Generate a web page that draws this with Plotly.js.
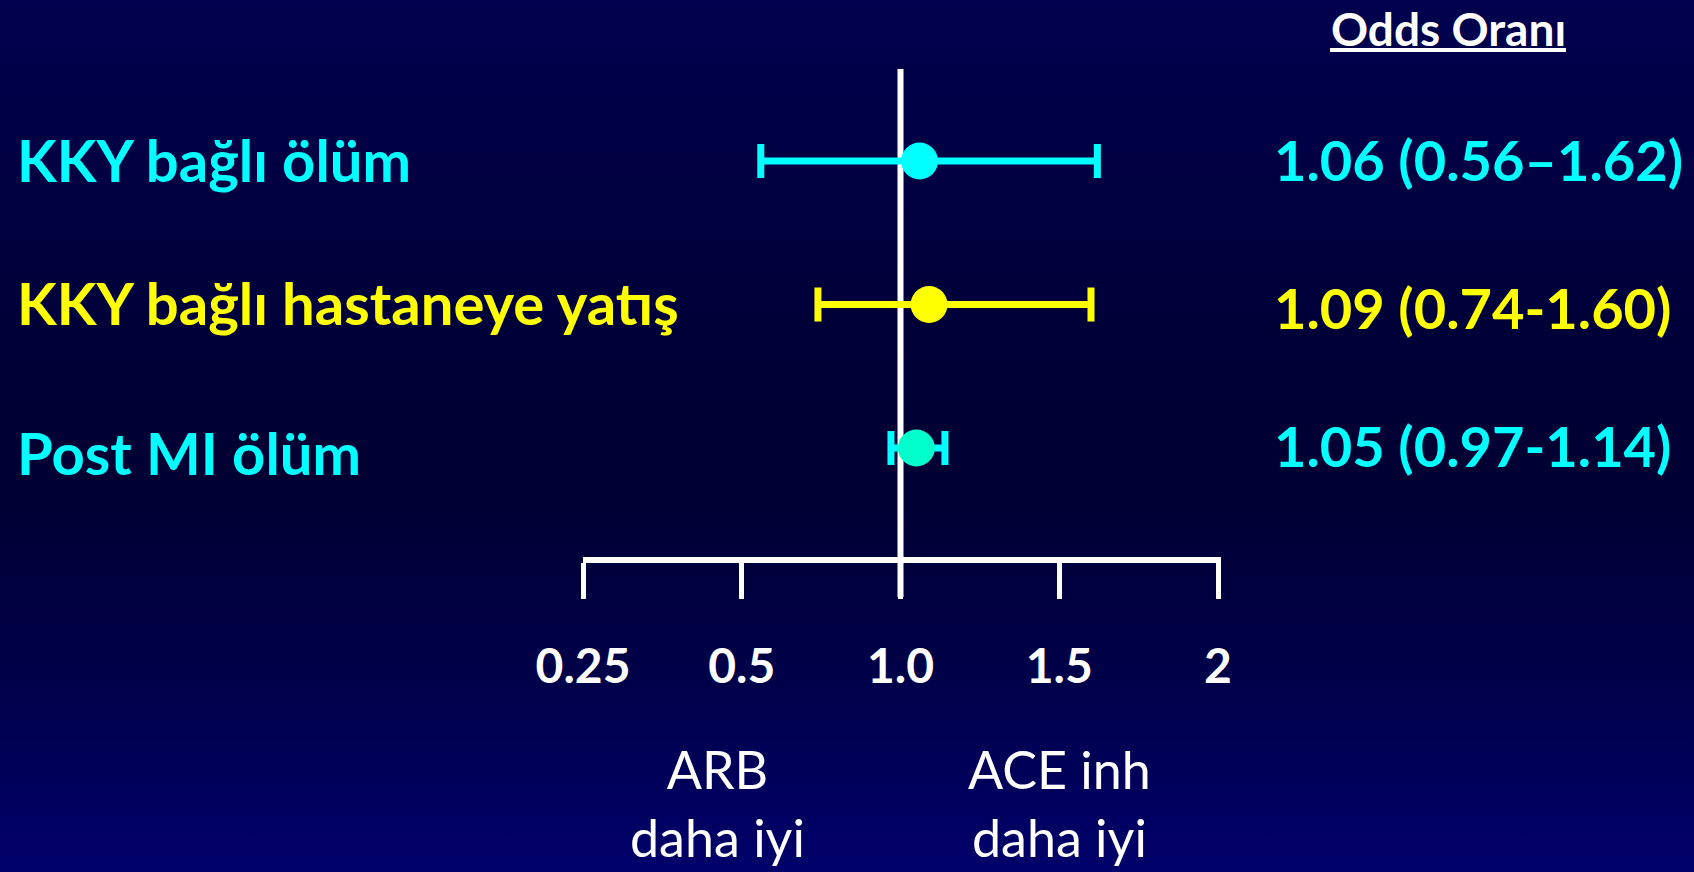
<!DOCTYPE html>
<html>
<head>
<meta charset="utf-8">
<script src="https://cdn.plot.ly/plotly-3.0.1.min.js"></script>
<style>
  html, body { margin: 0; padding: 0; }
  body {
    width: 1694px; height: 872px; overflow: hidden;
    background: linear-gradient(to bottom, #00004e 0%, #00003c 30%, #000032 55%, #00004c 80%, #00006b 100%);
  }
  #chart { width: 1694px; height: 872px; }
</style>
</head>
<body>
<div id="chart"></div>
<script>
// ---------------- data ----------------
const outcomes   = ['KKY bağlı ölüm', 'KKY bağlı hastaneye yatış', 'Post MI ölüm'];
const oddsRatio  = [1.06, 1.09, 1.05];
const ciLow      = [0.56, 0.74, 0.97];
const ciHigh     = [1.62, 1.60, 1.14];
const ciDash     = ['–', '-', '-'];
const tickValues = [0.25, 0.5, 1.0, 1.5, 2];
const tickLabels = ['0.25', '0.5', '1.0', '1.5', '2'];
const headerText = 'Odds Oranı';
const leftNote   = ['ARB', 'daha iyi'];
const rightNote  = ['ACE inh', 'daha iyi'];

// ---------------- styles ----------------
const markerColors = ['#00FFFF', '#FFFF00', '#00FFCC'];
const barColors    = ['#00FFFF', '#FFFF00', '#00FFFF'];
const textColors   = ['#00FFFF', '#FFFF00', '#00FFFF'];
const FONT = "Lato, 'DejaVu Sans', sans-serif";
const W = 1694, H = 872;

// The drawn axis places its ticks at evenly spaced positions; values are
// mapped piecewise-linearly between neighbouring ticks.
function toAxis(v) {
  for (let i = 0; i < tickValues.length - 1; i++) {
    const a = tickValues[i], b = tickValues[i + 1];
    if (v <= b || i === tickValues.length - 2) return i + (v - a) / (b - a);
  }
}
const px = x => x / W;          // pixel -> paper x
const py = y => 1 - y / H;      // pixel -> paper y

// plot frame (pixels)
const plotLeft = 583, plotRight = 1221, plotTop = 69, plotBottom = 557;
const row0Px = 161, rowStepPx = 143.5;
const yTop = (plotTop - row0Px) / rowStepPx;
const yBot = (plotBottom - row0Px) / rowStepPx;
const tickStepPx = (1218 - plotLeft) / (tickValues.length - 1);
const xMax = (plotRight - plotLeft) / tickStepPx;

const ciText = i => `${oddsRatio[i].toFixed(2)} (${ciLow[i].toFixed(2)}${ciDash[i]}${ciHigh[i].toFixed(2)})`;

const traces = outcomes.map((name, i) => {
  const c = toAxis(oddsRatio[i]);
  return {
    type: 'scatter', mode: 'markers', name: name,
    x: [c], y: [i],
    marker: { size: 37, color: markerColors[i], line: { width: 0 } },
    error_x: {
      type: 'data', symmetric: false,
      array: [toAxis(ciHigh[i]) - c],
      arrayminus: [c - toAxis(ciLow[i])],
      color: barColors[i], thickness: 7, width: 17
    },
    text: [ciText(i)],
    hoverinfo: 'text+name',
    showlegend: false,
    cliponaxis: false
  };
});

const annotations = [];
const labelY = [159, 303, 453];
const valueY = [159, 307, 445];
outcomes.forEach((name, i) => {
  annotations.push({
    xref: 'paper', yref: 'paper', x: px(15), y: py(labelY[i]),
    xanchor: 'left', yanchor: 'middle', showarrow: false,
    text: name,
    font: { family: FONT, size: 58, color: textColors[i], weight: 700 }
  });
  annotations.push({
    xref: 'paper', yref: 'paper', x: px(1272), y: py(valueY[i]),
    xanchor: 'left', yanchor: 'middle', showarrow: false,
    text: ciText(i),
    font: { family: FONT, size: 56, color: textColors[i], weight: 700 }
  });
});
annotations.push({
  xref: 'paper', yref: 'paper', x: px(1448), y: py(28),
  xanchor: 'center', yanchor: 'middle', showarrow: false,
  text: headerText,
  font: { family: FONT, size: 46, color: '#FFFFFF', weight: 700 }
});
[[leftNote, 717], [rightNote, 1059]].forEach(([lines, cx]) => {
  annotations.push({
    xref: 'paper', yref: 'paper', x: px(cx), y: py(803),
    xanchor: 'center', yanchor: 'middle', showarrow: false,
    text: lines.join('<br>'),
    align: 'center',
    font: { family: FONT, size: 52, color: '#FFFFFF', weight: 400 }
  });
});

const layout = {
  width: W, height: H,
  margin: { l: 0, r: 0, t: 0, b: 0, pad: 0 },
  paper_bgcolor: 'rgba(0,0,0,0)',
  plot_bgcolor: 'rgba(0,0,0,0)',
  showlegend: false,
  xaxis: {
    domain: [px(plotLeft), px(plotRight)],
    range: [0, xMax],
    tickmode: 'array',
    tickvals: tickValues.map(toAxis),
    ticktext: tickLabels,
    ticks: 'outside', ticklen: 36, tickwidth: 5, tickcolor: '#FFFFFF',
    ticklabelstandoff: 26,
    tickfont: { family: FONT, size: 48, color: '#FFFFFF', weight: 700 },
    showline: true, linecolor: '#FFFFFF', linewidth: 6,
    showgrid: false, zeroline: false, fixedrange: true
  },
  yaxis: {
    domain: [py(plotBottom), py(plotTop)],
    range: [yBot, yTop],
    visible: false, showgrid: false, zeroline: false, fixedrange: true
  },
  shapes: [
    { type: 'line', layer: 'below', xref: 'x', yref: 'paper',
      x0: toAxis(1.0), x1: toAxis(1.0), y0: py(597), y1: py(plotTop),
      line: { color: '#FFFFFF', width: 6 } },
    { type: 'line', xref: 'paper', yref: 'paper',
      x0: px(1330), x1: px(1566), y0: py(50), y1: py(50),
      line: { color: '#FFFFFF', width: 4 } }
  ],
  annotations: annotations
};

Plotly.newPlot('chart', traces, layout, { displayModeBar: false });
</script>
</body>
</html>
